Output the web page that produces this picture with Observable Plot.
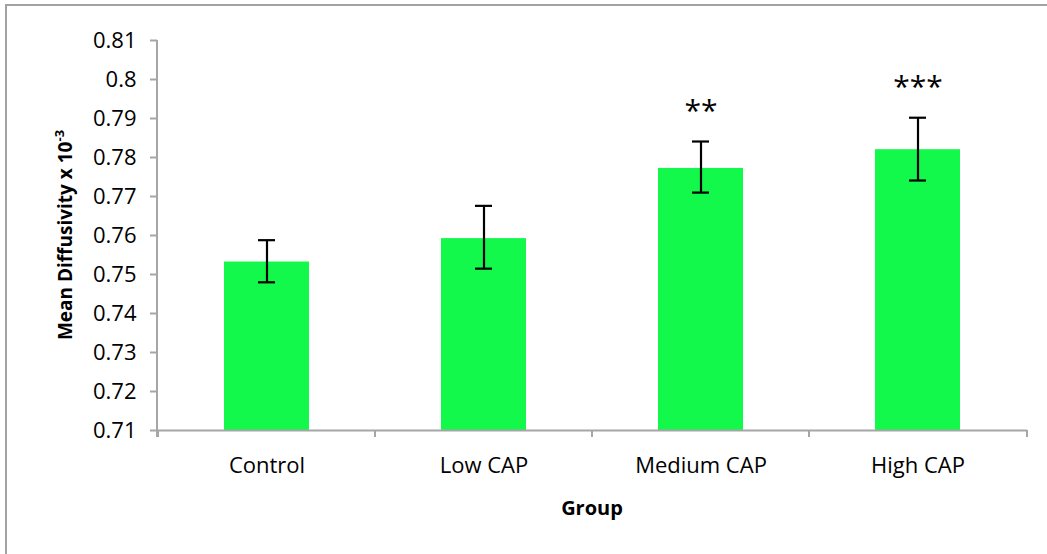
<!DOCTYPE html>
<html>
<head>
<meta charset="utf-8">
<script src="https://cdn.jsdelivr.net/npm/d3@7"></script>
<script src="https://cdn.jsdelivr.net/npm/@observablehq/plot@0.6"></script>
<style>
  html, body { margin: 0; padding: 0; background: #fff; }
  #wrap { position: relative; width: 1047px; height: 554px; overflow: hidden; background: #fff; }
  #frame { position: absolute; left: 5px; top: 4px; width: 1100px; height: 600px; border: 2px solid #a3a3a3; box-sizing: border-box; }
  #chart { position: absolute; left: 0; top: 0; }
</style>
</head>
<body>
<div id="wrap"><div id="frame"></div><div id="chart"></div></div>
<script>
const groups = ["Control", "Low CAP", "Medium CAP", "High CAP"];
const means = [0.7532, 0.7592, 0.7772, 0.7820];
const errLow = [0.7480, 0.7515, 0.7710, 0.7741];
const errHigh = [0.7588, 0.7676, 0.7841, 0.7902];
const stars = ["", "", "**", "***"];
const yTicks = [0.71, 0.72, 0.73, 0.74, 0.75, 0.76, 0.77, 0.78, 0.79, 0.8, 0.81];
const yTitle = "Mean Diffusivity x 10";
const yTitleSup = "-3";
const xTitle = "Group";

const data = groups.map((g, i) => ({group: g, mean: means[i], lo: errLow[i], hi: errHigh[i], sig: stars[i]}));

const axisGray = "#a6a6a6";
const chart = Plot.plot({
  width: 1047,
  height: 554,
  marginLeft: 157,
  marginRight: 20,
  marginTop: 40,
  marginBottom: 124,
  style: {fontFamily: "'Open Sans', sans-serif", fontSize: "22px", color: "#000", background: "transparent"},
  x: {domain: groups, paddingInner: 0.61, paddingOuter: 0.305, label: null},
  y: {domain: [0.71, 0.81], label: null},
  marks: [
    Plot.barY(data, {x: "group", y1: 0.71, y2: "mean", fill: "#12f84b"}),
    Plot.ruleX(data, {x: "group", y1: "lo", y2: "hi", stroke: "#000", strokeWidth: 2.2}),
    Plot.tickY(data, {x: "group", y: "lo", stroke: "#000", strokeWidth: 2.2, insetLeft: 34, insetRight: 34}),
    Plot.tickY(data, {x: "group", y: "hi", stroke: "#000", strokeWidth: 2.2, insetLeft: 34, insetRight: 34}),
    Plot.text(data, {x: "group", y: "hi", text: "sig", dy: -30, fontSize: 30, lineAnchor: "middle"}),
    Plot.ruleY([0.71], {stroke: axisGray, strokeWidth: 2}),
    Plot.axisY({ticks: yTicks, tickSize: 7, tickPadding: 14, stroke: axisGray, strokeWidth: 2, fontSize: 22, label: null, tickFormat: d => String(d)}),
    Plot.axisX({tickSize: 0, tickPadding: 27, fontSize: 22, label: null})
  ]
});
document.getElementById("chart").appendChild(chart);

// axis line and band separators derived from the library's scales
const sx = chart.scale("x");
const sy = chart.scale("y");
const svg = d3.select(chart);
const x0 = sx.range[0], x1 = sx.range[1];
const yTop = sy.apply(0.81), yBot = sy.apply(0.71);
const g = svg.append("g").attr("stroke", axisGray).attr("stroke-width", 2);
g.append("line").attr("x1", x0).attr("x2", x0).attr("y1", yTop).attr("y2", yBot + 7);
const edges = groups.map(d => sx.apply(d) - (sx.step - sx.bandwidth) / 2).concat([x1]);
edges.forEach(e => g.append("line").attr("x1", e).attr("x2", e).attr("y1", yBot).attr("y2", yBot + 7));

// y title (with superscript)
const yt = svg.append("text")
  .attr("transform", `translate(72,${(yTop + yBot) / 2}) rotate(-90)`)
  .attr("text-anchor", "middle")
  .attr("font-family", "'Open Sans', sans-serif")
  .attr("font-weight", "bold")
  .attr("font-size", 19)
  .attr("fill", "#000");
yt.append("tspan").text(yTitle);
yt.append("tspan").attr("font-size", 13).attr("dy", -8).text(yTitleSup);

// x title
svg.append("text")
  .attr("x", (x0 + x1) / 2)
  .attr("y", 515)
  .attr("text-anchor", "middle")
  .attr("font-family", "'Open Sans', sans-serif")
  .attr("font-weight", "bold")
  .attr("font-size", 20)
  .attr("fill", "#000")
  .text(xTitle);
</script>
</body>
</html>
